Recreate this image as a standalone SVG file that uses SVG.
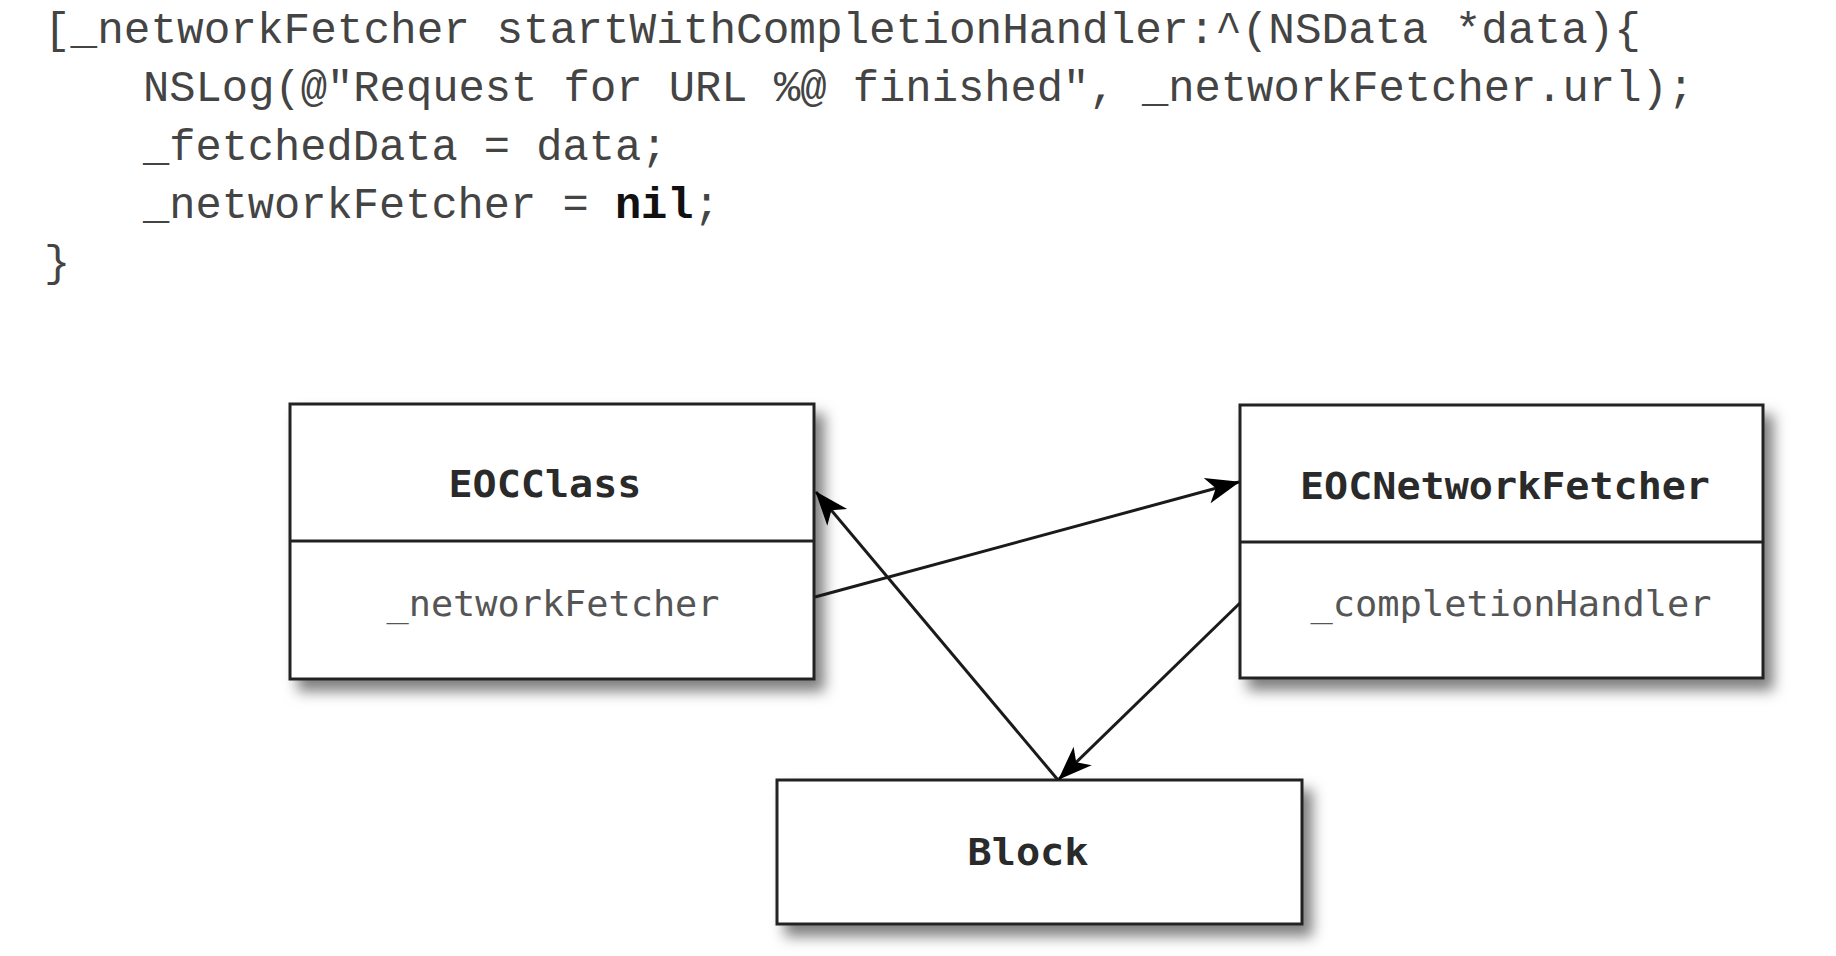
<svg xmlns="http://www.w3.org/2000/svg" width="1836" height="956" viewBox="0 0 1836 956">
<style>
.code{font-family:"Liberation Mono","DejaVu Sans Mono",monospace;font-size:43.7px;fill:#444}
.bold{font-weight:bold;fill:#111}
.box{fill:#fff;stroke:#222;stroke-width:3}
.div{stroke:#222;stroke-width:3}
.title{font-family:"DejaVu Sans Mono",monospace;font-size:38px;font-weight:bold;fill:#2a2a2a;text-anchor:middle}
.attr{font-family:"DejaVu Sans Mono",monospace;font-size:36px;fill:#555;text-anchor:middle}
.conn{stroke:#1a1a1a;stroke-width:3;fill:none;marker-end:url(#arrow)}
</style>
<defs>
<filter id="shadow" x="-10%" y="-15%" width="130%" height="150%">
<feDropShadow dx="9" dy="11" stdDeviation="7" flood-color="#000" flood-opacity="0.5"/>
</filter>
<marker id="arrow" markerUnits="userSpaceOnUse" markerWidth="40" markerHeight="30" refX="33" refY="13" orient="auto" overflow="visible">
<path d="M0,0 L34,13 L0,26 L9,13 Z" fill="#000"/>
</marker>
</defs>
<rect width="1836" height="956" fill="#fff"/>
<g id="code">
<text class="code" x="44" y="43" textLength="1597" lengthAdjust="spacingAndGlyphs">[_networkFetcher startWithCompletionHandler:^(NSData *data){</text>
<text class="code" x="143" y="101" textLength="1551" lengthAdjust="spacingAndGlyphs">NSLog(@"Request for URL %@ finished", _networkFetcher.url);</text>
<text class="code" x="143" y="160">_fetchedData = data;</text>
<text class="code" x="143" y="218">_networkFetcher = <tspan class="bold">nil</tspan>;</text>
<text class="code" x="44" y="276">}</text>
</g>
<g id="EOCClass">
<rect class="box" x="290" y="404" width="524" height="275" filter="url(#shadow)"/>
<line class="div" x1="290" y1="541" x2="814" y2="541"/>
<text class="title" x="545" y="497" textLength="193" lengthAdjust="spacingAndGlyphs">EOCClass</text>
<text class="attr" x="553" y="616" textLength="333" lengthAdjust="spacingAndGlyphs">_networkFetcher</text>
</g>
<g id="EOCNetworkFetcher">
<rect class="box" x="1240" y="405" width="523" height="273" filter="url(#shadow)"/>
<line class="div" x1="1240" y1="542" x2="1763" y2="542"/>
<text class="title" x="1505" y="499" textLength="410" lengthAdjust="spacingAndGlyphs">EOCNetworkFetcher</text>
<text class="attr" x="1511" y="616" textLength="401" lengthAdjust="spacingAndGlyphs">_completionHandler</text>
</g>
<g id="Block">
<rect class="box" x="777" y="780" width="525" height="144" filter="url(#shadow)"/>
<text class="title" x="1028" y="865" textLength="121" lengthAdjust="spacingAndGlyphs">Block</text>
</g>
<g id="connectors">
<line class="conn" x1="815" y1="597" x2="1239" y2="482"/>
<line class="conn" x1="1058" y1="780" x2="816" y2="492"/>
<line class="conn" x1="1240" y1="603" x2="1059" y2="779"/>
</g>
</svg>
